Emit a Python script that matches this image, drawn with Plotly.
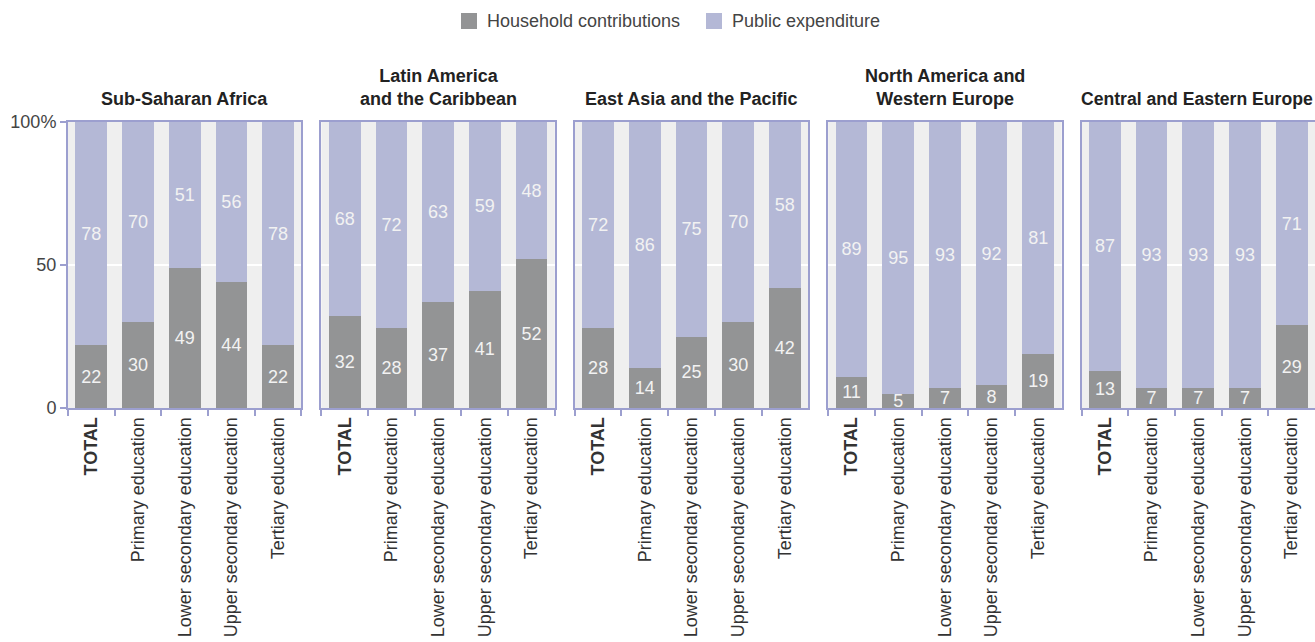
import plotly.graph_objects as go
from plotly.subplots import make_subplots

# Education spending shares by region and level (%)
regions = [
    "Sub-Saharan Africa",
    "Latin America<br>and the Caribbean",
    "East Asia and the Pacific",
    "North America and<br>Western Europe",
    "Central and Eastern Europe",
]
levels = ["TOTAL", "Primary education", "Lower secondary education",
          "Upper secondary education", "Tertiary education"]
level_labels = ["<b>TOTAL</b>", "Primary education", "Lower secondary education",
                "Upper secondary education", "Tertiary education"]

household_ssa = [22, 30, 49, 44, 22]
household_lac = [32, 28, 37, 41, 52]
household_eap = [28, 14, 25, 30, 42]
household_nawe = [11, 5, 7, 8, 19]
household_cee = [13, 7, 7, 7, 29]

public_ssa = [78, 70, 51, 56, 78]
public_lac = [68, 72, 63, 59, 48]
public_eap = [72, 86, 75, 70, 58]
public_nawe = [89, 95, 93, 92, 81]
public_cee = [87, 93, 93, 93, 71]

household = [household_ssa, household_lac, household_eap, household_nawe, household_cee]
public = [public_ssa, public_lac, public_eap, public_nawe, public_cee]

y_ticks = [0, 50, 100]
y_ticktext = ["0", "50", "100%"]

HH_COLOR = "#939495"
PUB_COLOR = "#b4b8d6"
PANEL_BG = "#efefef"
FRAME = "#9c9fcf"
FONT = "Liberation Sans, Arial, Helvetica, sans-serif"
FS = 18

W, H = 1315, 642
ML, MR, MT, MB = 68, 0, 122, 234
PW, PH = W - ML - MR, H - MT - MB


def px_x(px):
    return (px - ML) / PW


def px_y(py):
    return (H - MB - py) / PH


fig = make_subplots(rows=1, cols=5, horizontal_spacing=20 / PW, shared_yaxes=False)

for i in range(5):
    col = i + 1
    fig.add_trace(go.Bar(
        x=levels, y=household[i], name="Household contributions",
        marker=dict(color=HH_COLOR, line=dict(width=0)),
        texttemplate="%{y}", textposition="inside", insidetextanchor="middle",
        textangle=0, constraintext="none", cliponaxis=False,
        textfont=dict(color="#f2f2f2", size=FS, family=FONT),
        showlegend=False, hoverinfo="skip",
    ), row=1, col=col)
    fig.add_trace(go.Bar(
        x=levels, y=public[i], name="Public expenditure",
        marker=dict(color=PUB_COLOR, line=dict(width=0)),
        texttemplate="%{y}", textposition="inside", insidetextanchor="middle",
        textangle=0, constraintext="none", cliponaxis=False,
        textfont=dict(color="#f2f2f2", size=FS, family=FONT),
        showlegend=False, hoverinfo="skip",
    ), row=1, col=col)

    fig.update_xaxes(
        row=1, col=col, type="category", tickvals=levels, ticktext=level_labels,
        tickangle=-90, tickson="boundaries", ticks="outside", ticklen=6,
        tickwidth=2, tickcolor=FRAME, showline=True, linecolor=FRAME,
        linewidth=2, mirror=True, showgrid=False,
        tickfont=dict(size=FS, color="#333333", family=FONT),
    )
    fig.update_yaxes(
        row=1, col=col, range=[0, 100], tickvals=y_ticks, ticktext=y_ticktext,
        showgrid=True, gridcolor="#ffffff", gridwidth=2, zeroline=False,
        showline=True, linecolor=FRAME, linewidth=2, mirror=True,
        ticks="outside" if i == 0 else "", ticklen=6, tickwidth=2,
        tickcolor=FRAME, showticklabels=(i == 0),
        tickfont=dict(size=FS, color="#444444", family=FONT),
    )

    # Panel title; the last one sits flush against the right edge
    xref = "x domain" if i == 0 else f"x{col} domain"
    if i == 4:
        title_pos = dict(x=1.0, xanchor="right")
        title_size = 17.6
    else:
        title_pos = dict(x=0.5, xanchor="center")
        title_size = FS
    fig.add_annotation(
        text=f"<b>{regions[i]}</b>", xref=xref, yref="paper",
        y=1 + 11 / PH, yanchor="bottom",
        showarrow=False, align="center",
        font=dict(size=title_size, color="#222222", family=FONT),
        **title_pos,
    )

# Legend drawn as swatches and labels
legend_items = [("Household contributions", HH_COLOR, 461),
                ("Public expenditure", PUB_COLOR, 706)]
for label, color, left in legend_items:
    fig.add_shape(type="rect", xref="paper", yref="paper",
                  x0=px_x(left), x1=px_x(left + 16), y0=px_y(29), y1=px_y(13),
                  fillcolor=color, line=dict(width=0))
    fig.add_annotation(text=label, xref="paper", yref="paper",
                       x=px_x(left + 24), y=px_y(21), xanchor="left", yanchor="middle",
                       showarrow=False,
                       font=dict(size=FS, color="#444444", family=FONT))

fig.update_layout(
    width=W, height=H, barmode="stack", bargap=0.32,
    margin=dict(l=ML, r=MR, t=MT, b=MB, autoexpand=False),
    paper_bgcolor="#ffffff", plot_bgcolor=PANEL_BG,
    showlegend=False, font=dict(family=FONT),
)
for ax in fig.layout:
    if ax.startswith("yaxis"):
        fig.layout[ax].layer = "below traces"

fig.write_html("out.html")
